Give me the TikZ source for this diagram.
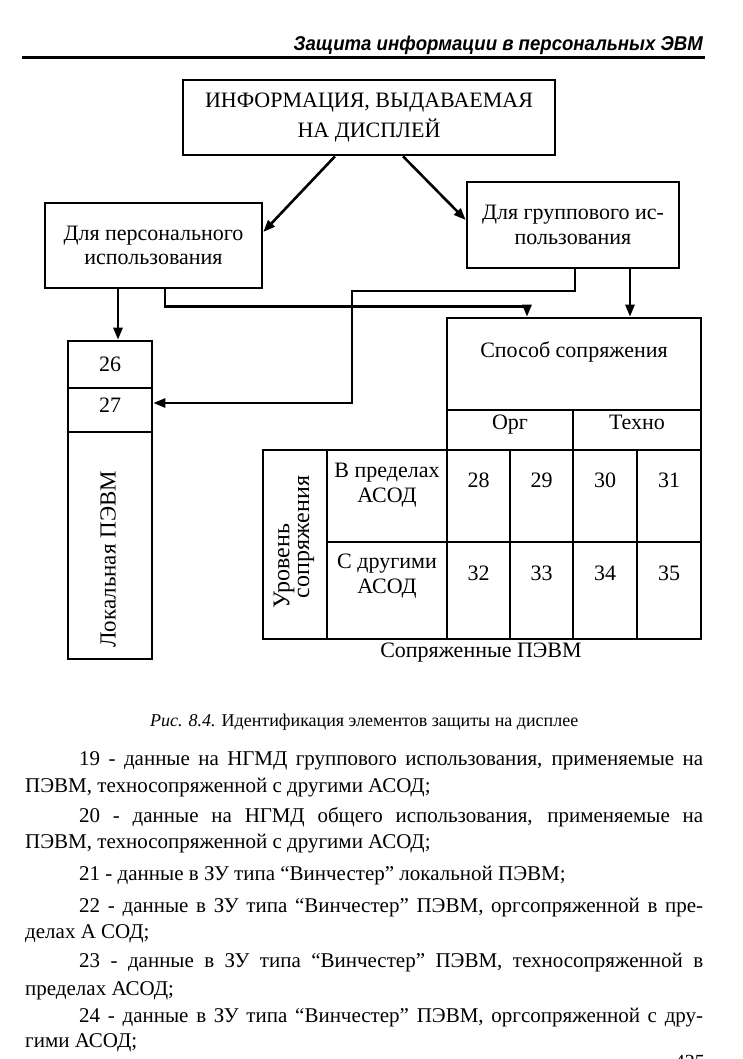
\documentclass[tikz,border=0pt]{standalone}
\usepackage{fontspec}
\setmainfont{Liberation Serif}
\newfontfamily\hdrfont{Liberation Sans}[FakeStretch=0.93]
\usetikzlibrary{arrows.meta}
\newcommand\jline[1]{\makebox[624pt][s]{#1}}
\begin{document}
\begin{tikzpicture}[x=1pt,y=-1pt,
  box/.style={draw, line width=2.6pt, inner sep=0pt, align=center},
  conn/.style={line width=2.6pt},
  arr/.style={line width=2.6pt, -{Triangle[length=12pt,width=9pt]}},
  lbl/.style={font=\fontsize{22}{25}\selectfont, align=center, inner sep=0pt},
  rlbl/.style={font=\fontsize{24}{24}\selectfont, inner sep=0pt, rotate=90},
  body/.style={font=\fontsize{21}{27}\selectfont, anchor=base west, inner sep=0pt},
]
\fill[white] (0,0) rectangle (743,1059);
\useasboundingbox (0,0) rectangle (743,1059);
\clip (0,0) rectangle (743,1059);

% header
\node[anchor=base east, inner sep=0pt, font=\hdrfont\bfseries\itshape\fontsize{20}{24}\selectfont] (hdr) at (703,51) {Защита информации в персональных ЭВМ};
\coordinate (ruleL) at (22,58);
\coordinate (ruleR) at (705,58);
\draw[line width=3pt] (ruleL) -- (ruleR);

% top boxes
\node[box, minimum width=372pt, minimum height=75pt, font=\fontsize{22}{30}\selectfont] (top) at (369,117.5) {ИНФОРМАЦИЯ, ВЫДАВАЕМАЯ\\НА ДИСПЛЕЙ};
\node[box, minimum width=217pt, minimum height=85pt, font=\fontsize{22}{24}\selectfont] (left) at (153.5,245.5) {Для персонального\\использования};
\node[box, minimum width=212pt, minimum height=86pt, font=\fontsize{22}{25}\selectfont] (right) at (573,225) {Для группового ис-\\пользования};

% local PC column
\node[box, minimum width=84pt, minimum height=47pt] (c26) at (110,364.5) {};
\node[box, minimum width=84pt, minimum height=44pt] (c27) at (110,410) {};
\node[box, minimum width=84pt, minimum height=227pt] (cl) at (110,545.5) {};
\node[lbl] (t26) at (110,364) {26};
\node[lbl] (t27) at (110,405) {27};
\node[lbl, rotate=90, font=\fontsize{23}{25}\selectfont] (tloc) at (108,559) {Локальная ПЭВМ};

% coupled PC table
\node[box, minimum width=254pt, minimum height=92pt] (sposob) at (574,364) {};
\node[lbl] (tsposob) at (574,352) {Способ сопряжения};
\node[box, minimum width=126pt, minimum height=40pt] (org) at (510,430) {};
\node[box, minimum width=128pt, minimum height=40pt] (tech) at (637,430) {};
\node[lbl, anchor=base] (torg) at (510,429) {Орг};
\node[lbl, anchor=base] (ttech) at (637,429) {Техно};
\node[box, minimum width=64pt, minimum height=189pt] (lev) at (295,544.5) {};
\node[rlbl] (tlev1) at (284,566) {Уровень};
\node[rlbl] (tlev2) at (306,537) {сопряжения};
\node[box, minimum width=120pt, minimum height=92pt] (r1) at (387,496) {};
\node[box, minimum width=120pt, minimum height=97pt] (r2) at (387,590.5) {};
\node[lbl] (tr1) at (387,485) {В пределах\\АСОД};
\node[lbl] (tr2) at (387,576) {С другими\\АСОД};
\foreach \x/\w/\a/\b [count=\i] in {478.5/63/28/32, 541.5/63/29/33, 605/64/30/34, 669/64/31/35}{
  \node[box, minimum width=\w pt, minimum height=92pt] (u\i) at (\x,496) {};
  \node[box, minimum width=\w pt, minimum height=97pt] (d\i) at (\x,590.5) {};
  \node[lbl] (tu\i) at (\x,480) {\a};
  \node[lbl] (td\i) at (\x,573) {\b};
}
\node[lbl] (tcoupled) at (481,653) {Сопряженные ПЭВМ};

% connectors
\coordinate (bend) at (352,291);
\draw[arr] ([xshift=-34pt]top.south) -- ([yshift=13.5pt]left.east);
\draw[arr] ([xshift=34pt]top.south) -- ([yshift=5pt]right.west);
\draw[arr] ([xshift=-35.5pt]left.south) -- ([xshift=8pt]c26.north);
\draw[arr] ([xshift=11.5pt]left.south) -- ++(0,17) -| ([xshift=-47pt]sposob.north);
\draw[arr] ([xshift=2pt]right.south) |- (bend) |- ([yshift=7pt]c27.east);
\draw[arr] ([xshift=57pt]right.south) -- ([xshift=56pt]sposob.north);

% caption
\node[anchor=base west, inner sep=0pt, font=\fontsize{18}{20}\selectfont] (cap) at (150,726) {\textit{Рис. 8.4.} Идентификация элементов защиты на дисплее};

% body text
\node[body] (p19a) at (79,765) {\jline{19 - данные на НГМД группового использования, применяемые на}};
\node[body] (p19b) at (25,792) {ПЭВМ, техносопряженной с другими АСОД;};
\node[body] (p20a) at (79,822) {\jline{20 - данные на НГМД общего использования, применяемые на}};
\node[body] (p20b) at (25,848) {ПЭВМ, техносопряженной с другими АСОД;};
\node[body] (p21a) at (79,880) {21 - данные в ЗУ типа “Винчестер” локальной ПЭВМ;};
\node[body] (p22a) at (79,912) {\jline{22 - данные в ЗУ типа “Винчестер” ПЭВМ, оргсопряженной в пре-}};
\node[body] (p22b) at (25,938) {делах А СОД;};
\node[body] (p23a) at (79,967) {\jline{23 - данные в ЗУ типа “Винчестер” ПЭВМ, техносопряженной в}};
\node[body] (p23b) at (25,995) {пределах АСОД;};
\node[body] (p24a) at (79,1022) {\jline{24 - данные в ЗУ типа “Винчестер” ПЭВМ, оргсопряженной с дру-}};
\node[body] (p24b) at (25,1047) {гими АСОД;};
\node[anchor=base east, inner sep=0pt, font=\fontsize{20}{24}\selectfont] (pnum) at (705,1068) {425};
\end{tikzpicture}
\end{document}
